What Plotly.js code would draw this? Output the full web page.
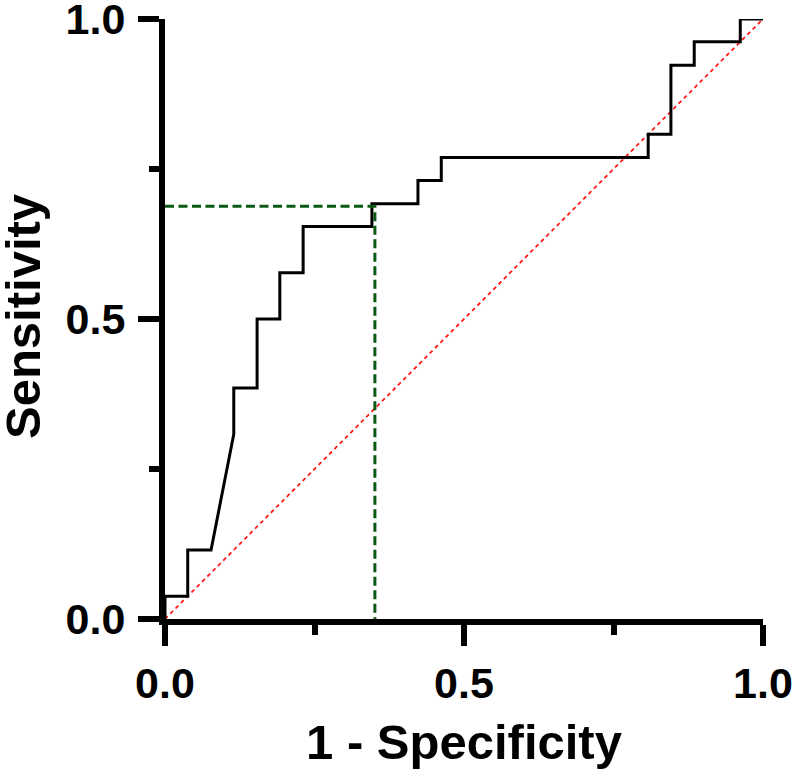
<!DOCTYPE html>
<html>
<head>
<meta charset="utf-8">
<script src="https://cdn.plot.ly/plotly-3.0.1.min.js"></script>
<style>
html,body{margin:0;padding:0;background:#fff;}
#chart{width:796px;height:783px;}
</style>
</head>
<body>
<div id="chart"></div>
<script>
// ROC curve (1 - Specificity vs Sensitivity)
var rocFPR = [0, 0, 0.038, 0.038, 0.077, 0.115, 0.115, 0.154, 0.154, 0.192, 0.192, 0.231, 0.231, 0.346, 0.346, 0.423, 0.423, 0.462, 0.462, 0.808, 0.808, 0.846, 0.846, 0.885, 0.885, 0.962, 0.962, 1.0];
var rocTPR = [0, 0.038, 0.038, 0.115, 0.115, 0.308, 0.385, 0.385, 0.5, 0.5, 0.577, 0.577, 0.654, 0.654, 0.692, 0.692, 0.731, 0.731, 0.769, 0.769, 0.808, 0.808, 0.923, 0.923, 0.962, 0.962, 1.0, 1.0];
// reference (chance) line
var refX = [0, 1];
var refY = [0, 1];
// cut-off marker lines
var cutX = [0, 0.351, 0.351];
var cutY = [0.688, 0.688, 0];
// ticks
var majorTickVals = [0, 0.5, 1];
var majorTickText = ['0.0', '0.5', '1.0'];
var minorTickVals = [0.25, 0.75];
var xTitle = '1 - Specificity';
var yTitle = 'Sensitivity';

var fontFamily = 'Arial, "Liberation Sans", sans-serif';

var traces = [
  {x: refX, y: refY, mode: 'lines', type: 'scatter', cliponaxis: false,
   line: {color: '#ff1a1a', width: 1.8, dash: '4px,3.5px'}, hoverinfo: 'skip'},
  {x: rocFPR, y: rocTPR, mode: 'lines', type: 'scatter', cliponaxis: false,
   line: {color: '#000000', width: 3}},
  {x: cutX, y: cutY, mode: 'lines', type: 'scatter', cliponaxis: false,
   line: {color: '#0a5a14', width: 3, dash: '9px,4.5px'}}
];

function axisBase() {
  return {
    range: [0, 1], fixedrange: true,
    showgrid: false, zeroline: false,
    showline: true, linewidth: 6, linecolor: '#000',
    ticks: 'outside', ticklen: 21, tickwidth: 6, tickcolor: '#000',
    tickmode: 'array', tickvals: majorTickVals, ticktext: majorTickText,
    ticklabeloverflow: 'allow',
    tickfont: {family: fontFamily, size: 43, color: '#000', weight: 'bold'},
    minor: {tickmode: 'array', tickvals: minorTickVals, ticks: 'outside', ticklen: 10, tickwidth: 6, tickcolor: '#000', showgrid: false}
  };
}

var titleFont = {family: fontFamily, size: 49, color: '#000', weight: 'bold'};
var xaxis = axisBase();
xaxis.title = {text: xTitle, font: titleFont, standoff: 21};
var yaxis = axisBase();
yaxis.ticklabelstandoff = 4;
yaxis.title = {text: ''};

var layout = {
  width: 796, height: 783,
  margin: {l: 165, r: 33, t: 19, b: 164, pad: 0},
  paper_bgcolor: '#fff', plot_bgcolor: '#fff',
  showlegend: false,
  xaxis: xaxis, yaxis: yaxis,
  annotations: [{
    text: yTitle, font: titleFont, textangle: -90,
    xref: 'paper', yref: 'paper', x: 0, y: 0.5,
    xanchor: 'center', yanchor: 'middle',
    xshift: -142, yshift: 2, showarrow: false
  }]
};

Plotly.newPlot('chart', traces, layout, {displayModeBar: false, staticPlot: true});
</script>
</body>
</html>
